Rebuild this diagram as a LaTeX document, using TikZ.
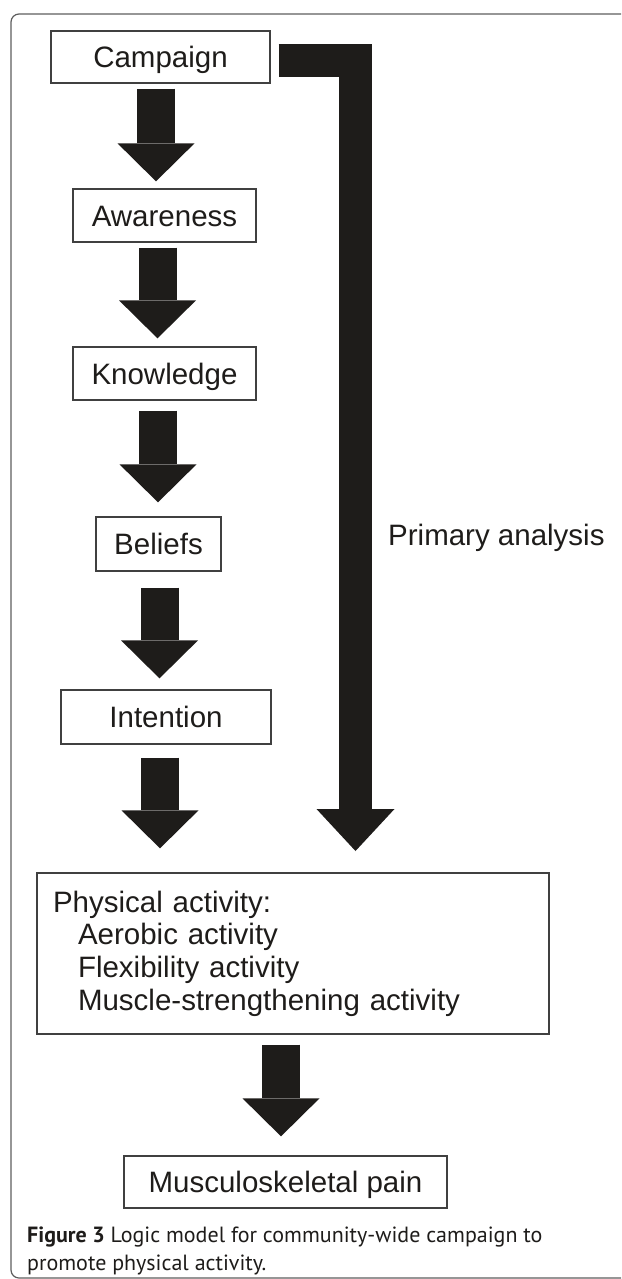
\documentclass[tikz,border=0pt]{standalone}
\usepackage{fontspec}
\setmainfont{Liberation Sans}
\newfontfamily\capfont{PT Sans}
\usetikzlibrary{arrows.meta}
\definecolor{ink}{RGB}{30,28,26}
\definecolor{rule}{RGB}{64,64,64}

\begin{document}
\begin{tikzpicture}[x=1pt, y=-1pt,
		frm/.style={draw=rule, line width=1.3pt, text=ink, inner sep=0pt, font=\fontsize{29.5}{32.7}\selectfont},
		box/.style={frm, text height=21pt, text depth=0pt},
		bigarrow/.style={draw=ink, line width=38pt, -{Triangle[width=77pt,length=38pt,line width=0pt]}}]
				\path[use as bounding box] (0,0) rectangle (621,1279);
				\clip (0,0) rectangle (621,1279);
				\draw[rule!85, line width=1.2pt, rounded corners=8pt] (11,14) rectangle (660,1278);
				% boxes
				\node[box, minimum width=219, minimum height=52] (camp) at (160.5,57) {Campaign};
				\node[box, minimum width=183, minimum height=53] (aware) at (164.5,215.5) {Awareness};
				\node[box, minimum width=183, minimum height=53] (know) at (164.5,373.5) {Knowledge};
				\node[box, minimum width=125, minimum height=54] (bel) at (158.5,544) {Beliefs};
				\node[box, minimum width=210, minimum height=54] (int) at (166,717) {Intention};
				\node[frm, minimum width=512, minimum height=161, text width=480, inner xsep=16pt, align=left] (phys) at (293,953.5)
					{Physical activity:\\\hspace*{25pt}Aerobic activity\\\hspace*{25pt}Flexibility activity\\\hspace*{25pt}Muscle-strengthening activity};
				\node[box, minimum width=323, minimum height=52] (musc) at (285.5,1182) {Musculoskeletal pain};
				\node[text=ink, inner sep=0pt, anchor=base west, font=\fontsize{29.5}{33}\selectfont] (prim) at (388,545) {Primary analysis};
				% arrows
				\foreach \a/\b/\s/\e/\x in {camp/aware/5/7/156, aware/know/5/8/157.5, know/bel/10/14/158, bel/int/16/11/159.5, int/phys/13/24/160, phys/musc/10/19/281}
					\draw[bigarrow, shorten <=\s pt, shorten >=\e pt] (\x,0 |- \a.south) -- (\x,0 |- \b.north);
				\coordinate (lend) at (355.5,851);
				\draw[bigarrow, line width=33pt, line join=miter, -{Triangle[width=78pt,length=42pt,line width=0pt]}] ([shift={(8,4)}]camp.east) -| (lend);
				% caption
				\node[text=ink, inner sep=0pt, anchor=base west, align=left, font=\capfont\fontsize{22}{28}\selectfont] (cap) at (27,1270)
					{\textbf{Figure 3} Logic model for community-wide campaign to\\promote physical activity.};
			\end{tikzpicture}
\end{document}
